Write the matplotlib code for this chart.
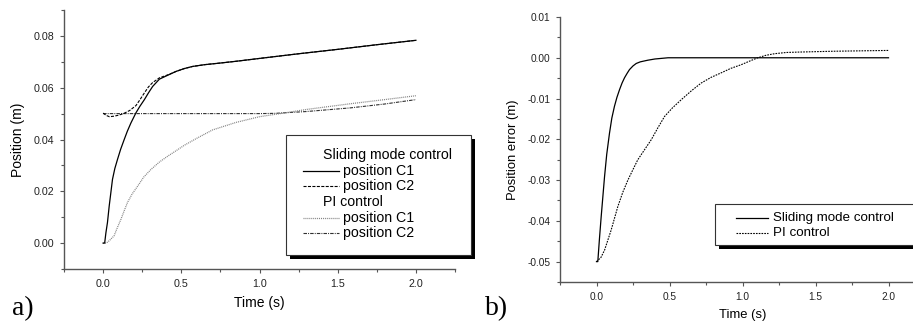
import matplotlib
matplotlib.use("Agg")
import matplotlib.pyplot as plt
from matplotlib.lines import Line2D
from matplotlib.patches import Rectangle
from matplotlib.ticker import MultipleLocator, FormatStrFormatter

# a) positions of carts C1 and C2 (m) vs time (s)
t_smc_c1 = [0.0, 0.01, 0.018, 0.028, 0.039, 0.06, 0.075, 0.092, 0.112, 0.135,
            0.155, 0.178, 0.21, 0.235, 0.264, 0.29, 0.317, 0.36, 0.42, 0.467,
            0.52, 0.572, 0.65, 0.746, 0.85, 1.0, 1.25, 1.5, 1.75, 2.0]
pos_smc_c1 = [0.0, 0.0, 0.004, 0.008, 0.0143, 0.0246, 0.0288, 0.0323, 0.0362, 0.04,
              0.0432, 0.0464, 0.0503, 0.0528, 0.0554, 0.0580, 0.0605, 0.0633, 0.0650, 0.0663,
              0.0674, 0.0682, 0.0689, 0.0695, 0.0702, 0.0713, 0.0731, 0.0748, 0.0766, 0.0783]

t_smc_c2 = [0.0, 0.02, 0.04, 0.07, 0.1, 0.13, 0.17, 0.21, 0.235, 0.264,
            0.29, 0.317, 0.36, 0.42, 0.467, 0.52, 0.572, 0.65, 0.746, 0.85,
            1.0, 1.25, 1.5, 1.75, 2.0]
pos_smc_c2 = [0.0502, 0.0493, 0.0488, 0.049, 0.0494, 0.05, 0.0512, 0.0531, 0.0553, 0.058,
              0.0603, 0.0620, 0.0638, 0.0651, 0.0663, 0.0674, 0.0682, 0.0689, 0.0695, 0.0702,
              0.0713, 0.0731, 0.0748, 0.0766, 0.0783]

t_pi_c1 = [0.0, 0.02, 0.039, 0.07, 0.09, 0.114, 0.135, 0.156, 0.185, 0.221,
           0.26, 0.307, 0.36, 0.414, 0.47, 0.52, 0.6, 0.7, 0.85, 1.0,
           1.153, 1.3, 1.58, 1.8, 2.0]
pos_pi_c1 = [0.0, 0.0, 0.0009, 0.0028, 0.0058, 0.0092, 0.0125, 0.0157, 0.0189, 0.022,
             0.0255, 0.0285, 0.0313, 0.0336, 0.0358, 0.0378, 0.0405, 0.0437, 0.0466, 0.0488,
             0.0502, 0.0516, 0.0538, 0.0554, 0.0569]

t_pi_c2 = [0.0, 0.5, 1.0, 1.1, 1.3, 1.58, 1.8, 2.0]
pos_pi_c2 = [0.05, 0.05, 0.05, 0.0501, 0.0508, 0.0522, 0.0537, 0.0554]

# b) position error (m) vs time (s)
t_err_smc = [0.0, 0.009, 0.02, 0.032, 0.055, 0.07, 0.089, 0.105, 0.123, 0.14,
             0.158, 0.175, 0.192, 0.21, 0.226, 0.25, 0.272, 0.3, 0.351, 0.4,
             0.49, 1.0, 1.5, 2.0]
err_smc = [-0.05, -0.05, -0.0445, -0.039, -0.0292, -0.0237, -0.0185, -0.0148, -0.0119, -0.0097,
           -0.0078, -0.0062, -0.0049, -0.0038, -0.0029, -0.002, -0.0014, -0.001, -0.0006, -0.0003,
           0.0, 0.0, 0.0, 0.0]

t_err_pi = [0.0, 0.009, 0.03, 0.055, 0.1, 0.146, 0.18, 0.215, 0.25, 0.283,
            0.33, 0.375, 0.42, 0.466, 0.52, 0.58, 0.65, 0.717, 0.785, 0.854,
            0.92, 0.991, 1.05, 1.105, 1.16, 1.22, 1.3, 1.39, 1.62, 2.0]
err_pi = [-0.05, -0.0497, -0.049, -0.0472, -0.0423, -0.0365, -0.033, -0.03, -0.0274, -0.025,
          -0.0225, -0.0201, -0.0172, -0.0144, -0.0123, -0.0103, -0.0081, -0.0062, -0.0048, -0.0037,
          -0.0026, -0.0017, -0.0008, 0.0, 0.0006, 0.001, 0.0013, 0.0014, 0.0016, 0.0018]

pos_yticks = [0.00, 0.02, 0.04, 0.06, 0.08]
err_yticks = [-0.05, -0.04, -0.03, -0.02, -0.01, 0.00, 0.01]
time_ticks = [0.0, 0.5, 1.0, 1.5, 2.0]

W, H = 913, 325
plt.rcParams["font.family"] = ["Liberation Sans", "DejaVu Sans"]
plt.rcParams["axes.unicode_minus"] = False
plt.rcParams["lines.scale_dashes"] = False

SMC_C1 = dict(color="black", lw=0.9, ls="-")
SMC_C2 = dict(color="black", lw=0.8, ls=(0, (2.2, 1.0)))
PI_C1 = dict(color="#808080", lw=0.9, ls=(0, (0.7, 0.7)))
PI_C2 = dict(color="#303030", lw=0.8, ls=(0, (2.5, 0.8, 0.7, 0.8)))
PI_ERR = dict(color="black", lw=0.8, ls=(0, (1.2, 0.8)))
AXIS_GREY = "#555555"


def fx(x):
    return x / W


def fy(y):
    return 1 - y / H


def box(left, top, right, bottom):
    return [fx(left), fy(bottom), (right - left) / W, (bottom - top) / H]


def style_axes(ax, ylim, yticks, yminor, tick_size):
    ax.set_xlim(-0.25, 2.25)
    ax.set_ylim(*ylim)
    for side in ("top", "right"):
        ax.spines[side].set_visible(False)
    for side in ("left", "bottom"):
        ax.spines[side].set_color(AXIS_GREY)
        ax.spines[side].set_linewidth(1.0)
    ax.set_xticks(time_ticks)
    ax.xaxis.set_minor_locator(MultipleLocator(0.25))
    ax.set_yticks(yticks)
    ax.yaxis.set_minor_locator(MultipleLocator(yminor))
    ax.xaxis.set_major_formatter(FormatStrFormatter("%.1f"))
    ax.yaxis.set_major_formatter(FormatStrFormatter("%.2f"))
    ax.tick_params(which="both", direction="out", color=AXIS_GREY, width=0.8,
                   labelsize=tick_size, labelcolor="#222222", pad=4)
    ax.tick_params(which="major", length=3)
    ax.tick_params(which="minor", length=2)


def draw_legend(fig, frame, rows, sample, text_x, header_x, fontsize):
    left, top, right, bottom = frame
    fig.add_artist(Rectangle((fx(left + 4), fy(bottom + 4)), (right - left) / W, (bottom - top) / H,
                             transform=fig.transFigure, facecolor="black", edgecolor="none", zorder=5))
    fig.add_artist(Rectangle((fx(left), fy(bottom)), (right - left) / W, (bottom - top) / H,
                             transform=fig.transFigure, facecolor="white", edgecolor="#333333",
                             lw=0.8, zorder=6))
    for y, label, style in rows:
        if style is None:
            fig.text(fx(header_x), fy(y), label, fontsize=fontsize, va="center", zorder=7)
            continue
        fig.add_artist(Line2D([fx(sample[0]), fx(sample[1])], [fy(y), fy(y)],
                              transform=fig.transFigure, zorder=7, **style))
        fig.text(fx(text_x), fy(y), label, fontsize=fontsize, va="center", zorder=7)


fig = plt.figure(figsize=(W / 100, H / 100), dpi=100)

ax_a = fig.add_axes(box(64, 10, 455, 269))
style_axes(ax_a, (-0.01, 0.09), pos_yticks, 0.01, 7.7)
ax_a.plot(t_pi_c2, pos_pi_c2, **PI_C2)
ax_a.plot(t_pi_c1, pos_pi_c1, **PI_C1)
ax_a.plot(t_smc_c2, pos_smc_c2, **SMC_C2)
ax_a.plot(t_smc_c1, pos_smc_c1, **SMC_C1)
ax_a.set_xlabel("Time (s)", fontsize=10, labelpad=5)
ax_a.set_ylabel("Position (m)", fontsize=10, labelpad=6)

ax_b = fig.add_axes(box(560, 17, 925, 282))
style_axes(ax_b, (-0.055, 0.01), err_yticks, 0.005, 7.3)
ax_b.plot(t_err_pi, err_pi, **PI_ERR)
ax_b.plot(t_err_smc, err_smc, **SMC_C1)
ax_b.set_xlabel("Time (s)", fontsize=9.4, labelpad=5)
ax_b.set_ylabel("Position error (m)", fontsize=9.4, labelpad=6)

draw_legend(fig, (286, 135, 471, 255),
            [(155, "Sliding mode control", None),
             (170.7, "position C1", SMC_C1),
             (185.7, "position C2", SMC_C2),
             (201.7, "PI control", None),
             (217.7, "position C1", PI_C1),
             (233.3, "position C2", PI_C2)],
            sample=(303, 339), text_x=343, header_x=323, fontsize=10.2)
draw_legend(fig, (715, 204, 935, 245),
            [(217.7, "Sliding mode control", SMC_C1),
             (232.7, "PI control", PI_ERR)],
            sample=(736, 768), text_x=773, header_x=773, fontsize=9.6)

fig.text(fx(12), fy(315), "a)", fontsize=20, family="Liberation Serif", va="baseline")
fig.text(fx(485), fy(315), "b)", fontsize=20, family="Liberation Serif", va="baseline")

fig.savefig("out.png", dpi=100)
